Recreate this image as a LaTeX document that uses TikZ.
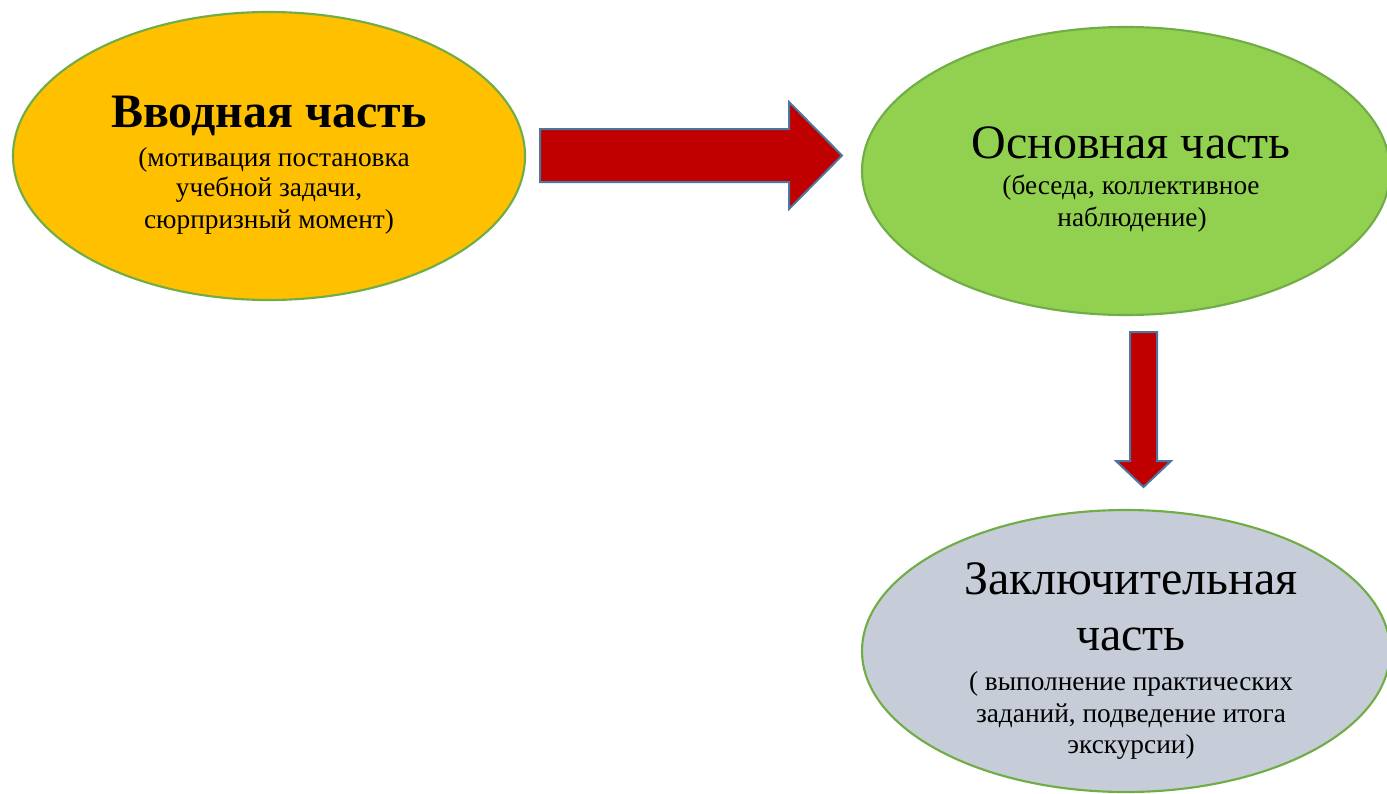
\documentclass[tikz,border=0pt]{standalone}
\usepackage{fontspec}
\setmainfont{Liberation Serif}
\usetikzlibrary{shapes.geometric}
\definecolor{yel}{HTML}{FFC000}
\definecolor{grn}{HTML}{92D050}
\definecolor{gry}{HTML}{C6CCD8}
\definecolor{edge}{HTML}{70AD47}
\definecolor{arrred}{HTML}{C00000}
\definecolor{arredge}{HTML}{4A76A0}
\tikzset{
  oval/.style={ellipse, draw=edge, line width=1.6pt, inner sep=0pt},
  blockarrow/.style={fill=arrred, draw=arredge, line width=1.5pt, line join=miter},
  ttl/.style={anchor=base, inner sep=0pt, font=\fontsize{36}{40}\selectfont},
  ttlb/.style={anchor=base, inner sep=0pt, font=\fontsize{36}{40}\selectfont\bfseries},
  sub/.style={anchor=base, inner sep=0pt, font=\fontsize{20.5}{24}\selectfont}
}
\begin{document}
\begin{tikzpicture}[x=0.75pt, y=-0.75pt]
\useasboundingbox (0,0) rectangle (1387,793);
\clip (0,0) rectangle (1387,793);
\fill[white] (0,0) rectangle (1387,793);
% ellipses
\node[oval, fill=yel, minimum width=384pt, minimum height=216pt] (intro) at (269,156) {};
\node[oval, fill=grn, minimum width=396pt, minimum height=216pt] (main) at (1126,171) {};
\node[oval, fill=gry, minimum width=396pt, minimum height=211.5pt] (final) at (1126,651) {};
% texts
\node[ttlb] (t1) at (269,127) {Вводная часть};
\node[sub] (t1a) at (274,166) {(мотивация постановка};
\node[sub] (t1b) at (269,196) {учебной задачи,};
\node[sub] (t1c) at (269,228) {сюрпризный момент)};
\node[ttl] (t2) at (1131,158) {Основная часть};
\node[sub] (t2a) at (1131,194) {(беседа, коллективное};
\node[sub] (t2b) at (1132,226) {наблюдение)};
\node[ttl] (t3) at (1131,594) {Заключительная};
\node[ttl] (t3b) at (1131,650) {часть};
\node[sub] (t3c) at (1131,690) {( выполнение практических};
\node[sub] (t3d) at (1131,722) {заданий, подведение итога};
\node[sub] (t3e) at (1131,753) {экскурсии)};
% block arrows
\draw[blockarrow] (540,129) -- (789,129) -- (789,102) -- (842,155.5) -- (789,209) -- (789,182) -- (540,182) -- cycle;
\draw[blockarrow] (1130,332) -- (1157,332) -- (1157,461) -- (1171,461) -- (1143.5,487) -- (1116,461) -- (1130,461) -- cycle;
\end{tikzpicture}
\end{document}
